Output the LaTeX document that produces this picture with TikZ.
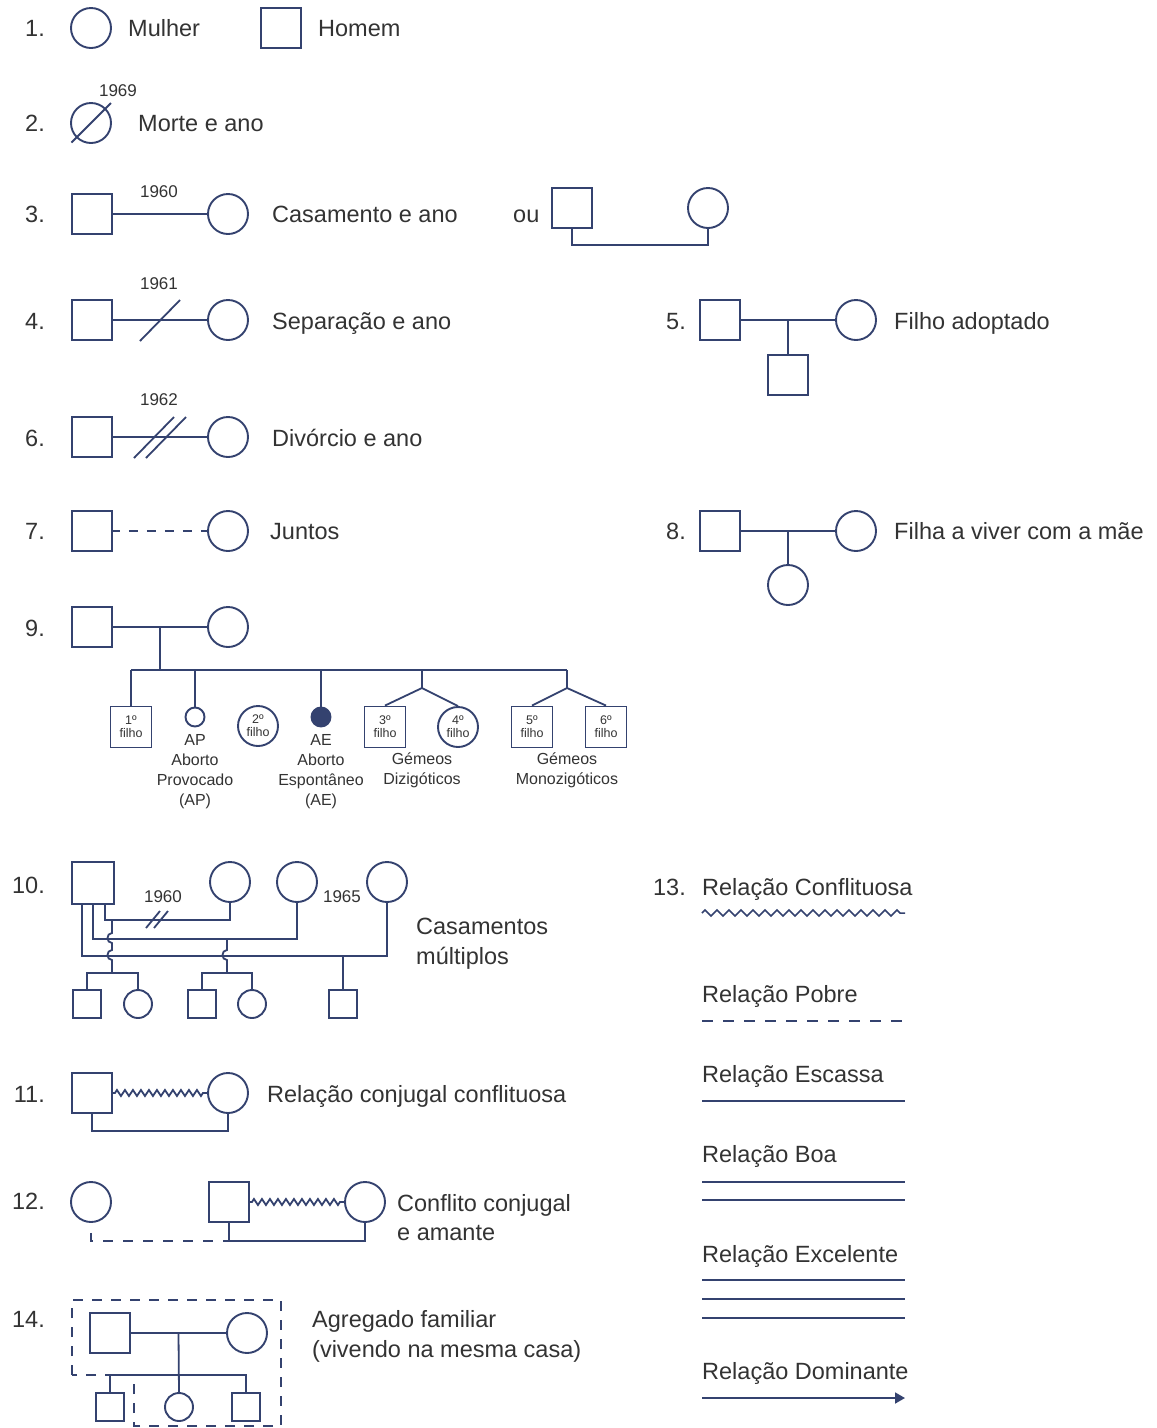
\documentclass[tikz,border=0pt]{standalone}
\usepackage{fontspec}
\setmainfont{Liberation Sans}
\usetikzlibrary{calc,decorations.pathmorphing,arrows.meta}
\definecolor{navy}{HTML}{34426F}
\definecolor{ink}{HTML}{333333}
\tikzset{
  rel/.style={draw=navy, line width=1.8pt},
  man/.style={draw=navy, line width=1.9pt, rectangle, minimum size=40pt, inner sep=0pt, fill=white, align=center, text=ink, font=\fontsize{12.5}{13}\selectfont},
  woman/.style={draw=navy, line width=1.9pt, circle, minimum size=40pt, inner sep=0pt, fill=white, align=center, text=ink, font=\fontsize{12.5}{13}\selectfont},
  sman/.style={man, minimum size=28pt},
  swoman/.style={woman, minimum size=28pt},
  lbl/.style={anchor=base west, inner sep=0pt, text=ink, font=\fontsize{23.5}{28}\selectfont},
  num/.style={anchor=base east, inner sep=0pt, text=ink, font=\fontsize{23.5}{28}\selectfont},
  yr/.style={inner sep=0pt, text=ink, font=\fontsize{17}{19}\selectfont},
  smalltxt/.style={anchor=north, inner sep=0pt, text=ink, align=center, font=\fontsize{16}{20}\selectfont},
  conflict/.style={rel, decorate, decoration={zigzag, segment length=8pt, amplitude=3pt, pre length=2pt, post length=2pt}},
}
\begin{document}
\begin{tikzpicture}[x=1pt, y=-1pt]
\useasboundingbox[fill=white] (0,0) rectangle (1157,1428);

% ---------- 1
\node[num] (n1) at (45,36) {1.};
\node[woman] (w1) at (91,28) {};
\node[lbl] (t1a) at (128,36) {Mulher};
\node[man] (m1) at (281,28) {};
\node[lbl] (t1b) at (318,36) {Homem};

% ---------- 2
\node[num] (n2) at (45,131) {2.};
\node[woman] (w2) at (91,123) {};
\draw[rel] ($(w2.center)!1.32!(w2.south west)$) -- ($(w2.center)!1.35!(w2.north east)$);
\node[yr] (y2) at (118,91) {1969};
\node[lbl] (t2) at (138,131) {Morte e ano};

% ---------- 3
\node[num] (n3) at (45,222) {3.};
\node[man] (m3) at (92,214) {};
\node[woman] (w3) at (228,214) {};
\draw[rel] (m3) -- (w3);
\node[yr] (y3) at (159,192) {1960};
\node[lbl] (t3) at (272,222) {Casamento e ano};
\node[lbl] (ou) at (513,222) {ou};
\node[man] (m3b) at (572,208) {};
\node[woman] (w3b) at (708,208) {};
\draw[rel] (m3b.south) -- ++(0,16) -| (w3b.south);

% ---------- 4
\node[num] (n4) at (45,329) {4.};
\node[man] (m4) at (92,320) {};
\node[woman] (w4) at (228,320) {};
\draw[rel] (m4) -- (w4);
\coordinate (x4) at ($(m4.east)!0.5!(w4.west)$);
\draw[rel] ($(x4)+(-20,21)$) -- ($(x4)+(20,-20)$);
\node[yr] (y4) at (159,284) {1961};
\node[lbl] (t4) at (272,329) {Separação e ano};

% ---------- 5
\node[num] (n5) at (686,329) {5.};
\node[man] (m5) at (720,320) {};
\node[woman] (w5) at (856,320) {};
\draw[rel] (m5) -- (w5);
\coordinate (x5) at ($(m5.east)!0.5!(w5.west)$);
\node[man] (k5) at (788,375) {};
\draw[rel] (x5) -- (k5.north);
\node[lbl] (t5) at (894,329) {Filho adoptado};

% ---------- 6
\node[num] (n6) at (45,446) {6.};
\node[man] (m6) at (92,437) {};
\node[woman] (w6) at (228,437) {};
\draw[rel] (m6) -- (w6);
\coordinate (x6) at ($(m6.east)!0.5!(w6.west)$);
\draw[rel] ($(x6)+(-26,21)$) -- ($(x6)+(14,-20)$);
\draw[rel] ($(x6)+(-14,21)$) -- ($(x6)+(26,-20)$);
\node[yr] (y6) at (159,400) {1962};
\node[lbl] (t6) at (272,446) {Divórcio e ano};

% ---------- 7
\node[num] (n7) at (45,539) {7.};
\node[man] (m7) at (92,531) {};
\node[woman] (w7) at (228,531) {};
\draw[rel, dash pattern=on 9pt off 9pt, dash phase=2pt] (m7) -- (w7);
\node[lbl] (t7) at (270,539) {Juntos};

% ---------- 8
\node[num] (n8) at (686,539) {8.};
\node[man] (m8) at (720,531) {};
\node[woman] (w8) at (856,531) {};
\draw[rel] (m8) -- (w8);
\coordinate (x8) at ($(m8.east)!0.5!(w8.west)$);
\node[woman] (k8) at (788,585) {};
\draw[rel] (x8) -- (k8.north);
\node[lbl] (t8) at (894,539) {Filha a viver com a mãe};

% ---------- 9
\node[num] (n9) at (45,636) {9.};
\node[man] (m9) at (92,627) {};
\node[woman] (w9) at (228,627) {};
\draw[rel] (m9) -- (w9);
\coordinate (x9) at ($(m9.east)!0.5!(w9.west)$);
\coordinate (bL) at (131,670);
\coordinate (bR) at (567,670);
\draw[rel] (bL) -- (bR);
\draw[rel] (x9) -- (x9 |- bL);
\node[man, minimum size=41pt] (c1) at (131,727) {1º\\filho};
\draw[rel] (c1.north |- bL) -- (c1.north);
\node[woman, minimum size=19pt] (ap) at (195,717) {};
\draw[rel] (ap.north |- bL) -- (ap.north);
\node[woman] (c2) at (258,726) {2º\\filho};
\node[woman, minimum size=19pt, fill=navy] (ae) at (321,717) {};
\draw[rel] (ae.north |- bL) -- (ae.north);
\coordinate (td) at (422,688);
\node[man, minimum size=41pt] (c3) at (385,727) {3º\\filho};
\node[woman] (c4) at (458,727) {4º\\filho};
\draw[rel] (td |- bL) -- (td);
\draw[rel] (td) -- (c3.north);
\draw[rel] (td) -- (c4.north);
\coordinate (tm) at (567,688);
\node[man, minimum size=41pt] (c5) at (532,727) {5º\\filho};
\node[man, minimum size=41pt] (c6) at (606,727) {6º\\filho};
\draw[rel] (tm |- bR) -- (tm);
\draw[rel] (tm) -- (c5.north);
\draw[rel] (tm) -- (c6.north);
\node[smalltxt] (lap) at (195,734) {AP\\Aborto\\Provocado\\(AP)};
\node[smalltxt] (lae) at (321,734) {AE\\Aborto\\Espontâneo\\(AE)};
\node[smalltxt] (ldz) at (422,753) {Gémeos\\Dizigóticos};
\node[smalltxt] (lmz) at (567,753) {Gémeos\\Monozigóticos};

% ---------- 10
\node[num] (n10) at (45,893) {10.};
\node[man, minimum size=42pt] (m10) at (93,883) {};
\node[woman] (w10a) at (230,882) {};
\node[woman] (w10b) at (297,882) {};
\node[woman] (w10c) at (387,882) {};
\draw[rel] ($(m10.south)+(12,0)$) -- ++(0,15) -| (w10a.south);
\draw[rel] ($(m10.south)+(0,0)$) -- ++(0,34) -| (w10b.south);
\draw[rel] ($(m10.south)+(-11,0)$) -- ++(0,51) -| (w10c.south);
\coordinate (d10) at (158,919);
\draw[rel] ($(d10)+(-12,9)$) -- ($(d10)+(2,-8)$);
\draw[rel] ($(d10)+(-4,9)$) -- ($(d10)+(10,-8)$);
\node[yr] (y10a) at (163,897) {1960};
\node[yr] (y10b) at (342,897) {1965};
\node[sman] (k10a) at (87,1004) {};
\node[swoman] (k10b) at (138,1004) {};
\node[sman] (k10c) at (202,1004) {};
\node[swoman] (k10d) at (252,1004) {};
\node[sman] (k10e) at (343,1004) {};
\coordinate (j1) at (112,919);
\coordinate (b1) at (112,973);
\draw[rel] (j1) -- (112,933) .. controls (106,933) and (106,943) .. (112,943)
  -- (112,950) .. controls (106,950) and (106,960) .. (112,960) -- (b1);
\draw[rel] (k10a.north) |- (b1) -| (k10b.north);
\coordinate (j2) at (227,938);
\coordinate (b2) at (227,973);
\draw[rel] (j2) -- (227,950) .. controls (221,950) and (221,960) .. (227,960) -- (b2);
\draw[rel] (k10c.north) |- (b2) -| (k10d.north);
\coordinate (j3) at (343,955);
\draw[rel] (j3) -- (k10e.north);
\node[lbl] (t10a) at (416,934) {Casamentos};
\node[lbl] (t10b) at (416,964) {múltiplos};

% ---------- 11
\node[num] (n11) at (45,1102) {11.};
\node[man] (m11) at (92,1093) {};
\node[woman] (w11) at (228,1093) {};
\draw[conflict] (m11) -- (w11);
\draw[rel] (m11.south) -- ++(0,17) -| (w11.south);
\node[lbl] (t11) at (267,1102) {Relação conjugal conflituosa};

% ---------- 12
\node[num] (n12) at (45,1209) {12.};
\node[woman] (a12) at (91,1202) {};
\node[man] (m12) at (229,1202) {};
\node[woman] (w12) at (365,1202) {};
\draw[conflict] (m12) -- (w12);
\draw[rel] (m12.south) -- ++(0,18) -| (w12.south);
\coordinate (j12) at ($(m12.south)+(0,18)$);
\draw[rel, dash pattern=on 10pt off 10pt, dash phase=10pt] (a12.south) |- (j12);
\node[lbl] (t12a) at (397,1211) {Conflito conjugal};
\node[lbl] (t12b) at (397,1240) {e amante};

% ---------- 13
\node[num] (n13) at (686,895) {13.};
\node[lbl] (r1) at (702,895) {Relação Conflituosa};
\coordinate (r1a) at (702,913); \coordinate (r1b) at (905,913);
\draw[rel, line width=1.5pt, decorate, decoration={zigzag, segment length=12pt, amplitude=3pt}] (r1a) -- (r1b);
\node[lbl] (r2) at (702,1002) {Relação Pobre};
\coordinate (r2a) at (702,1021); \coordinate (r2b) at (905,1021);
\draw[rel, dash pattern=on 11pt off 10pt] (r2a) -- (r2b);
\node[lbl] (r3) at (702,1082) {Relação Escassa};
\coordinate (r3a) at (702,1101); \coordinate (r3b) at (905,1101);
\draw[rel] (r3a) -- (r3b);
\node[lbl] (r4) at (702,1162) {Relação Boa};
\coordinate (r4a) at (702,1182); \coordinate (r4b) at (905,1182);
\coordinate (r4c) at (702,1200); \coordinate (r4d) at (905,1200);
\draw[rel] (r4a) -- (r4b);
\draw[rel] (r4c) -- (r4d);
\node[lbl] (r5) at (702,1262) {Relação Excelente};
\coordinate (r5a) at (702,1280); \coordinate (r5b) at (905,1280);
\coordinate (r5c) at (702,1299); \coordinate (r5d) at (905,1299);
\coordinate (r5e) at (702,1318); \coordinate (r5f) at (905,1318);
\draw[rel] (r5a) -- (r5b);
\draw[rel] (r5c) -- (r5d);
\draw[rel] (r5e) -- (r5f);
\node[lbl] (r6) at (702,1379) {Relação Dominante};
\coordinate (r6a) at (702,1398); \coordinate (r6b) at (905,1398);
\draw[rel, -{Triangle[length=10pt, width=11pt]}] (r6a) -- (r6b);

% ---------- 14
\node[num] (n14) at (45,1327) {14.};
\node[man] (m14) at (110,1333) {};
\node[woman] (w14) at (247,1333) {};
\draw[rel] (m14) -- (w14);
\coordinate (x14) at ($(m14.east)!0.5!(w14.west)$);
\node[sman] (k14a) at (110,1407) {};
\node[swoman] (k14b) at (179,1407) {};
\node[sman] (k14c) at (246,1407) {};
\coordinate (b14) at (179,1375);
\draw[rel] (x14) -- (k14b.north);
\draw[rel] (k14a.north) |- (b14) -| (k14c.north);
\draw[rel, dash pattern=on 10pt off 9pt] (72,1375) -- (72,1300) -- (281,1300) -- (281,1426) -- (134,1426) -- (134,1375) -- cycle;
\node[lbl] (t14a) at (312,1327) {Agregado familiar};
\node[lbl] (t14b) at (312,1357) {(vivendo na mesma casa)};
\end{tikzpicture}
\end{document}
